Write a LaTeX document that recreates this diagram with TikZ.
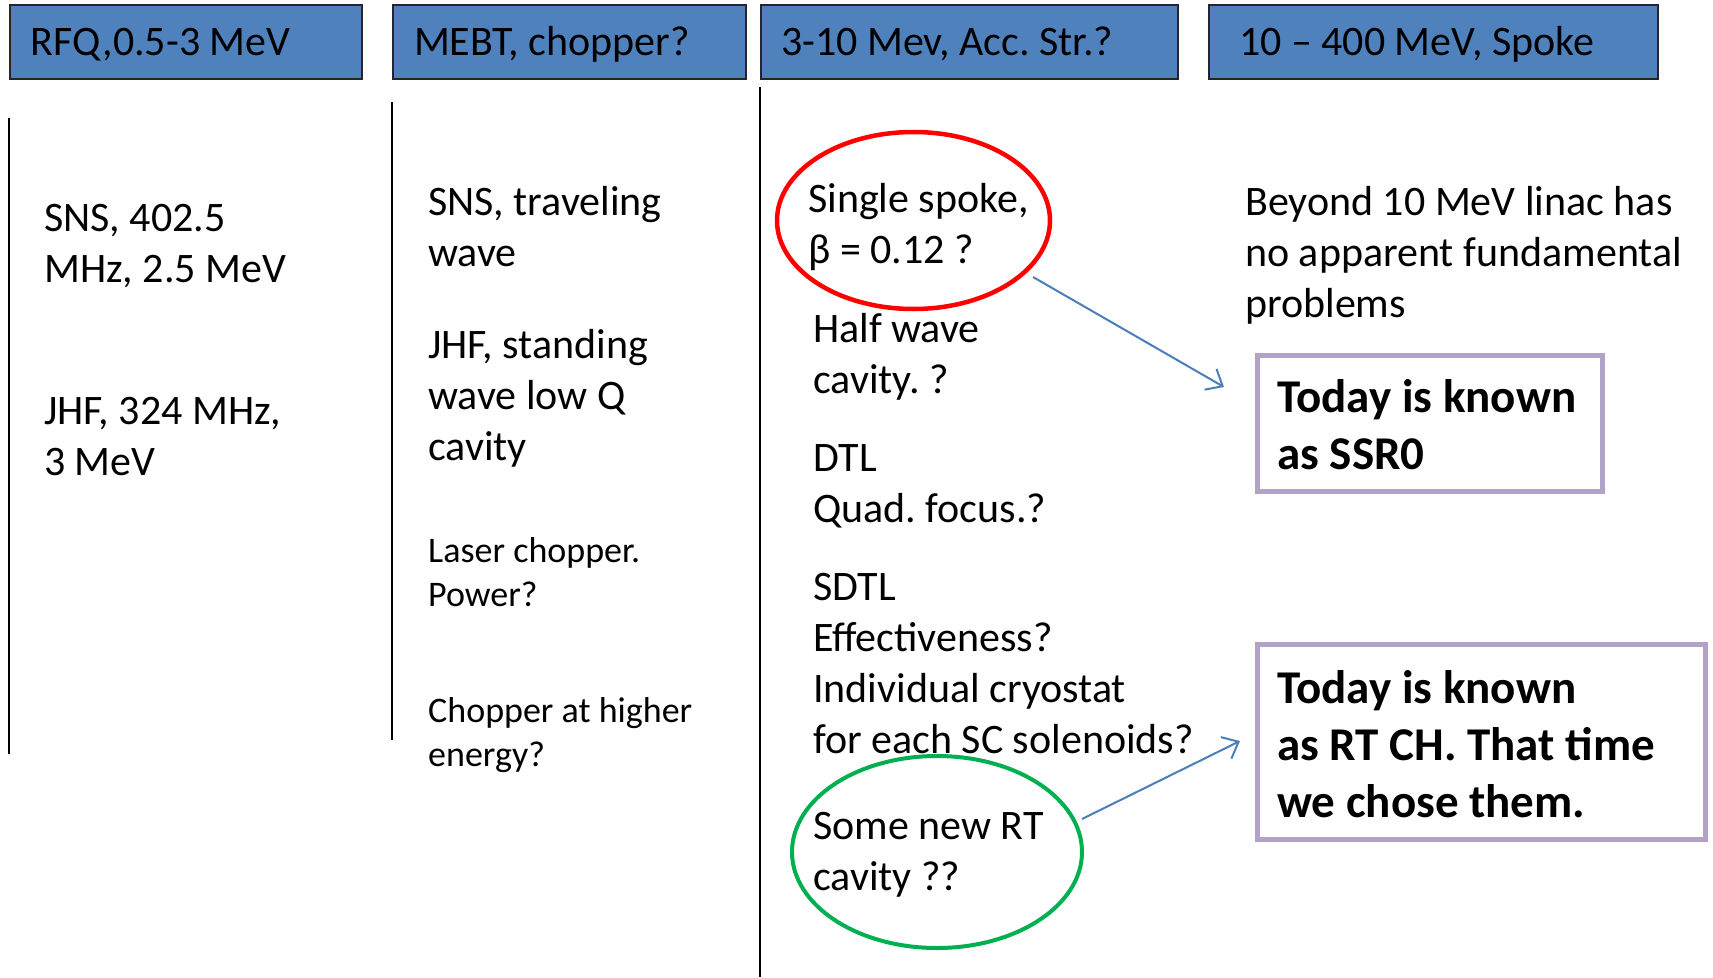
\documentclass[tikz,border=0pt]{standalone}
\usepackage{fontspec}
\setmainfont{Carlito}
\frenchspacing
\usetikzlibrary{shapes.geometric,arrows.meta}
\definecolor{hdrblue}{HTML}{4F81BD}
\definecolor{arrowblue}{HTML}{4A7EBB}
\definecolor{notepurple}{HTML}{B3A2C7}
\definecolor{ellred}{HTML}{FF0000}
\definecolor{ellgreen}{HTML}{00B050}
\newcommand{\hdrtext}[2]{\makebox[#1][l]{#2}}
\tikzset{
  hdr/.style={draw=black!85, line width=2pt, fill=hdrblue, anchor=north west,
    minimum height=74pt, inner ysep=0pt, text height=27pt, text depth=0pt,
    font=\fontsize{42}{51}\selectfont},
  txt/.style={anchor=north west, inner sep=0pt, align=left, font=\fontsize{42}{51}\selectfont},
  stxt/.style={anchor=north west, inner sep=0pt, align=left, font=\fontsize{36}{44}\selectfont},
  btxt/.style={anchor=north west, inner sep=0pt, align=left, font=\fontsize{47}{57}\selectfont\bfseries},
  vline/.style={line width=2.5pt, black},
  conn/.style={draw=arrowblue, line width=2pt, -{Straight Barb[length=14pt,width=24pt]}},
  note/.style={draw=notepurple, line width=5pt, anchor=north west, inner sep=0pt},
  ell/.style={ellipse, inner sep=0pt, line width=4.5pt},
}
\begin{document}
\begin{tikzpicture}[x=1pt,y=-1pt]
\useasboundingbox (0,0) rectangle (1713,977);
% headers
\node[hdr, inner xsep=20.5pt] (h1) at (9,4) {\hdrtext{311pt}{RFQ,0.5-3 MeV}};
\node[hdr, inner xsep=21pt] (h2) at (392,4) {\hdrtext{311pt}{MEBT, chopper?}};
\node[hdr, inner xsep=20pt] (h3) at (760,4) {\hdrtext{377pt}{3-10 Mev, Acc. Str.?}};
\node[hdr, inner xsep=30pt] (h4) at (1208,4) {\hdrtext{389pt}{10 -- 400 MeV, Spoke}};
% dividers
\draw[vline] (9,118) -- (9,754);
\draw[vline] (392,102) -- (392,740);
\draw[vline] (760,87) -- (760,977);
% column 1
\node[txt] (c1a) at (44,196) {\strut SNS, 402.5\\MHz, 2.5 MeV};
\node[txt] (c1b) at (44,389) {\strut JHF, 324 MHz,\\3 MeV};
% column 2
\node[txt] (c2a) at (428,180) {\strut SNS, traveling\\wave};
\node[txt] (c2b) at (428,323) {\strut JHF, standing\\wave low Q\\cavity};
\node[stxt] (c2c) at (428,531) {\strut Laser chopper.\\Power?};
\node[stxt] (c2d) at (428,691) {\strut Chopper at higher\\energy?};
% column 3
\node[txt] (c3a) at (808,177) {\strut Single spoke,\\β = 0.12 ?};
\node[ell, draw=ellred, minimum width=273pt, minimum height=177pt] (redell) at (913.5,220.5) {};
\node[txt] (c3b) at (813,307) {\strut Half wave\\cavity. ?};
\node[txt] (c3c) at (813,436) {\strut DTL\\Quad. focus.?};
\node[txt] (c3d) at (813,565) {\strut SDTL\\Effectiveness?\\Individual cryostat\\for each SC solenoids?};
\node[txt] (c3e) at (813,804) {\strut Some new RT\\cavity ??};
\node[ell, draw=ellgreen, line width=4pt, minimum width=290pt, minimum height=192pt] (greenell) at (937,852) {};
% column 4
\node[txt] (c4a) at (1245,180) {\strut Beyond 10 MeV linac has\\no apparent fundamental\\problems};
\node[note, minimum width=345pt, minimum height=136pt] (ssr0) at (1255,353) {};
\node[btxt] (ssr0t) at (1277,372) {\strut Today is known\\as SSR0};
\node[note, minimum width=448pt, minimum height=194.5pt] (rtch) at (1255,642) {};
\node[btxt] (rtcht) at (1277,663) {\strut Today is known\\as RT CH. That time\\we chose them.};
% arrows
\coordinate (a1s) at (1033,277);
\coordinate (a1e) at (1224,387);
\coordinate (a2s) at (1082,819);
\coordinate (a2e) at (1240,741);
\draw[conn] (a1s) -- (a1e);
\draw[conn] (a2s) -- (a2e);
\end{tikzpicture}
\end{document}
